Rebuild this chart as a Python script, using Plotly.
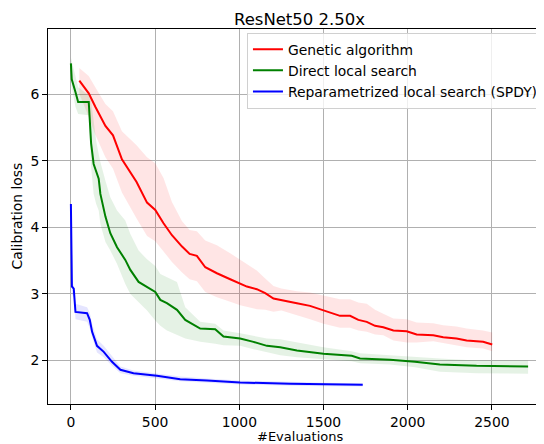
import plotly.graph_objects as go

# ---- data ----
ga_x = [50, 106, 145, 205, 250, 303, 390, 452, 501, 550, 600, 660, 705, 748, 798, 867, 946, 1005,
        1045, 1104, 1154, 1203, 1250, 1342, 1420, 1500, 1598, 1658, 1707, 1757, 1806, 1855, 1915,
        1994, 2053, 2152, 2211, 2290, 2350, 2448, 2502]
ga_y = [6.20, 6.01, 5.81, 5.52, 5.38, 5.02, 4.68, 4.37, 4.26, 4.06, 3.88, 3.71, 3.60, 3.57, 3.40,
        3.31, 3.22, 3.15, 3.11, 3.07, 3.01, 2.93, 2.91, 2.86, 2.82, 2.75, 2.67, 2.67, 2.61, 2.58,
        2.52, 2.50, 2.45, 2.44, 2.39, 2.38, 2.35, 2.33, 2.30, 2.28, 2.24]
ga_hi = [6.39, 6.27, 6.10, 5.85, 5.74, 5.44, 5.23, 5.05, 4.96, 4.74, 4.38, 4.09, 3.96, 3.94, 3.80,
         3.73, 3.61, 3.51, 3.44, 3.35, 3.23, 3.12, 3.08, 3.04, 3.02, 2.98, 2.92, 2.92, 2.87, 2.85,
         2.76, 2.70, 2.63, 2.62, 2.57, 2.56, 2.53, 2.51, 2.48, 2.45, 2.42]
ga_lo = [6.00, 5.66, 5.39, 5.05, 4.88, 4.52, 4.13, 3.87, 3.79, 3.64, 3.48, 3.32, 3.22, 3.19, 3.03,
         2.95, 2.88, 2.83, 2.80, 2.77, 2.76, 2.73, 2.75, 2.68, 2.62, 2.55, 2.49, 2.49, 2.45, 2.43,
         2.39, 2.38, 2.30, 2.27, 2.27, 2.29, 2.26, 2.23, 2.20, 2.18, 2.14]

dls_x = [0, 5, 27, 43, 106, 112, 120, 135, 150, 165, 175, 205, 234, 274, 323, 353, 402, 452, 501,
         531, 570, 630, 679, 768, 857, 906, 1005, 1084, 1164, 1243, 1342, 1500, 1668, 1717, 1895,
         2043, 2191, 2409, 2715]
dls_y = [6.46, 6.22, 6.03, 5.88, 5.88, 5.66, 5.26, 4.95, 4.83, 4.73, 4.50, 4.16, 3.91, 3.70, 3.51,
         3.36, 3.18, 3.11, 3.03, 2.91, 2.86, 2.76, 2.61, 2.48, 2.47, 2.36, 2.33, 2.28, 2.22, 2.20,
         2.15, 2.10, 2.07, 2.03, 2.01, 1.98, 1.94, 1.92, 1.91]
dls_hi = [6.55, 6.50, 6.30, 6.10, 5.98, 5.95, 5.90, 5.60, 5.30, 5.10, 4.98, 4.70, 4.45, 4.25, 4.10,
          3.90, 3.65, 3.52, 3.42, 3.30, 3.25, 3.18, 2.80, 2.58, 2.55, 2.45, 2.41, 2.37, 2.33, 2.32,
          2.27, 2.20, 2.14, 2.11, 2.08, 2.05, 2.03, 2.00, 2.00]
dls_lo = [6.35, 6.10, 5.81, 5.70, 5.68, 5.30, 4.90, 4.50, 4.35, 4.25, 4.05, 3.78, 3.65, 3.45, 3.15,
          3.00, 2.88, 2.75, 2.60, 2.52, 2.45, 2.38, 2.33, 2.28, 2.25, 2.23, 2.22, 2.17, 2.12, 2.08,
          2.05, 2.02, 1.99, 1.96, 1.94, 1.90, 1.83, 1.81, 1.80]

spdy_x = [0, 3, 6, 17, 23, 27, 96, 112, 126, 155, 195, 244, 294, 372, 511, 649, 808, 1005, 1302,
          1500, 1733]
spdy_y = [4.35, 3.60, 3.11, 3.08, 2.91, 2.73, 2.71, 2.61, 2.43, 2.22, 2.13, 1.98, 1.86, 1.81, 1.77,
          1.72, 1.70, 1.67, 1.65, 1.64, 1.635]
spdy_hi = [4.38, 3.70, 3.20, 3.12, 2.98, 2.85, 2.80, 2.72, 2.55, 2.32, 2.22, 2.06, 1.91, 1.85, 1.81,
           1.76, 1.73, 1.70, 1.68, 1.665, 1.66]
spdy_lo = [4.32, 3.50, 3.00, 2.95, 2.80, 2.62, 2.58, 2.48, 2.35, 2.12, 2.05, 1.92, 1.81, 1.77, 1.73,
           1.69, 1.67, 1.64, 1.62, 1.615, 1.61]

series = [
    ("Genetic algorithm", ga_x, ga_y, ga_lo, ga_hi, "#ff0000", "rgba(255,0,0,0.1)"),
    ("Direct local search", dls_x, dls_y, dls_lo, dls_hi, "#008000", "rgba(0,128,0,0.1)"),
    ("Reparametrized local search (SPDY)", spdy_x, spdy_y, spdy_lo, spdy_hi, "#0000ff", "rgba(0,0,255,0.1)"),
]

x_ticks = [0, 500, 1000, 1500, 2000, 2500]
y_ticks = [2, 3, 4, 5, 6]

FONT = "DejaVu Sans"
fig = go.Figure()

for name, xs, ys, lo, hi, col, fcol in series:
    fig.add_trace(go.Scatter(x=xs + xs[::-1], y=hi + lo[::-1], fill="toself", fillcolor=fcol,
                             line=dict(width=0), mode="lines", showlegend=False, hoverinfo="skip"))

for name, xs, ys, lo, hi, col, fcol in series:
    fig.add_trace(go.Scatter(x=xs, y=ys, mode="lines", name=name, line=dict(color=col, width=2)))

axis_common = dict(showline=True, linecolor="black", linewidth=1, mirror=True,
                   ticks="outside", ticklen=5, tickwidth=1, tickcolor="black",
                   showgrid=True, gridcolor="#b0b0b0", gridwidth=1, zeroline=False,
                   automargin=False, layer="below traces",
                   tickfont=dict(family=FONT, size=13.9, color="black"))

# The page body adds an 8 px offset; sizes/margins below compensate for it.
fig.update_layout(
    width=544, height=436,
    margin=dict(l=40, r=1, t=21, b=40, autoexpand=False),
    plot_bgcolor="white", paper_bgcolor="white",
    font=dict(family=FONT, size=13.9, color="black"),
    title=dict(text="ResNet50 2.50x", x=0.5, xref="paper", xanchor="center",
               y=1 - 11 / 436, yref="container", yanchor="middle",
               font=dict(family=FONT, size=16.5, color="black")),
    xaxis=dict(range=[-136, 2851], tickvals=x_ticks, **axis_common),
    yaxis=dict(range=[1.347, 6.976], tickvals=y_ticks, **axis_common),
    legend=dict(x=0.986, xanchor="right", y=0.99, yanchor="top",
                bgcolor="rgba(255,255,255,0.8)", bordercolor="#d0d0d0", borderwidth=1,
                font=dict(family=FONT, size=13.9, color="black"),
                tracegroupgap=0, itemwidth=30),
    showlegend=True,
    annotations=[
        dict(text="#Evaluations", xref="paper", yref="paper", x=0.5, y=0,
             xanchor="center", yanchor="top", yshift=-23.5, showarrow=False, borderpad=0,
             font=dict(family=FONT, size=13, color="black")),
        dict(text="Calibration loss", xref="paper", yref="paper", x=0, y=0.5,
             xanchor="center", yanchor="middle", xshift=-32, textangle=-90, showarrow=False,
             font=dict(family=FONT, size=13.9, color="black")),
    ],
)

fig.write_html("out.html")
